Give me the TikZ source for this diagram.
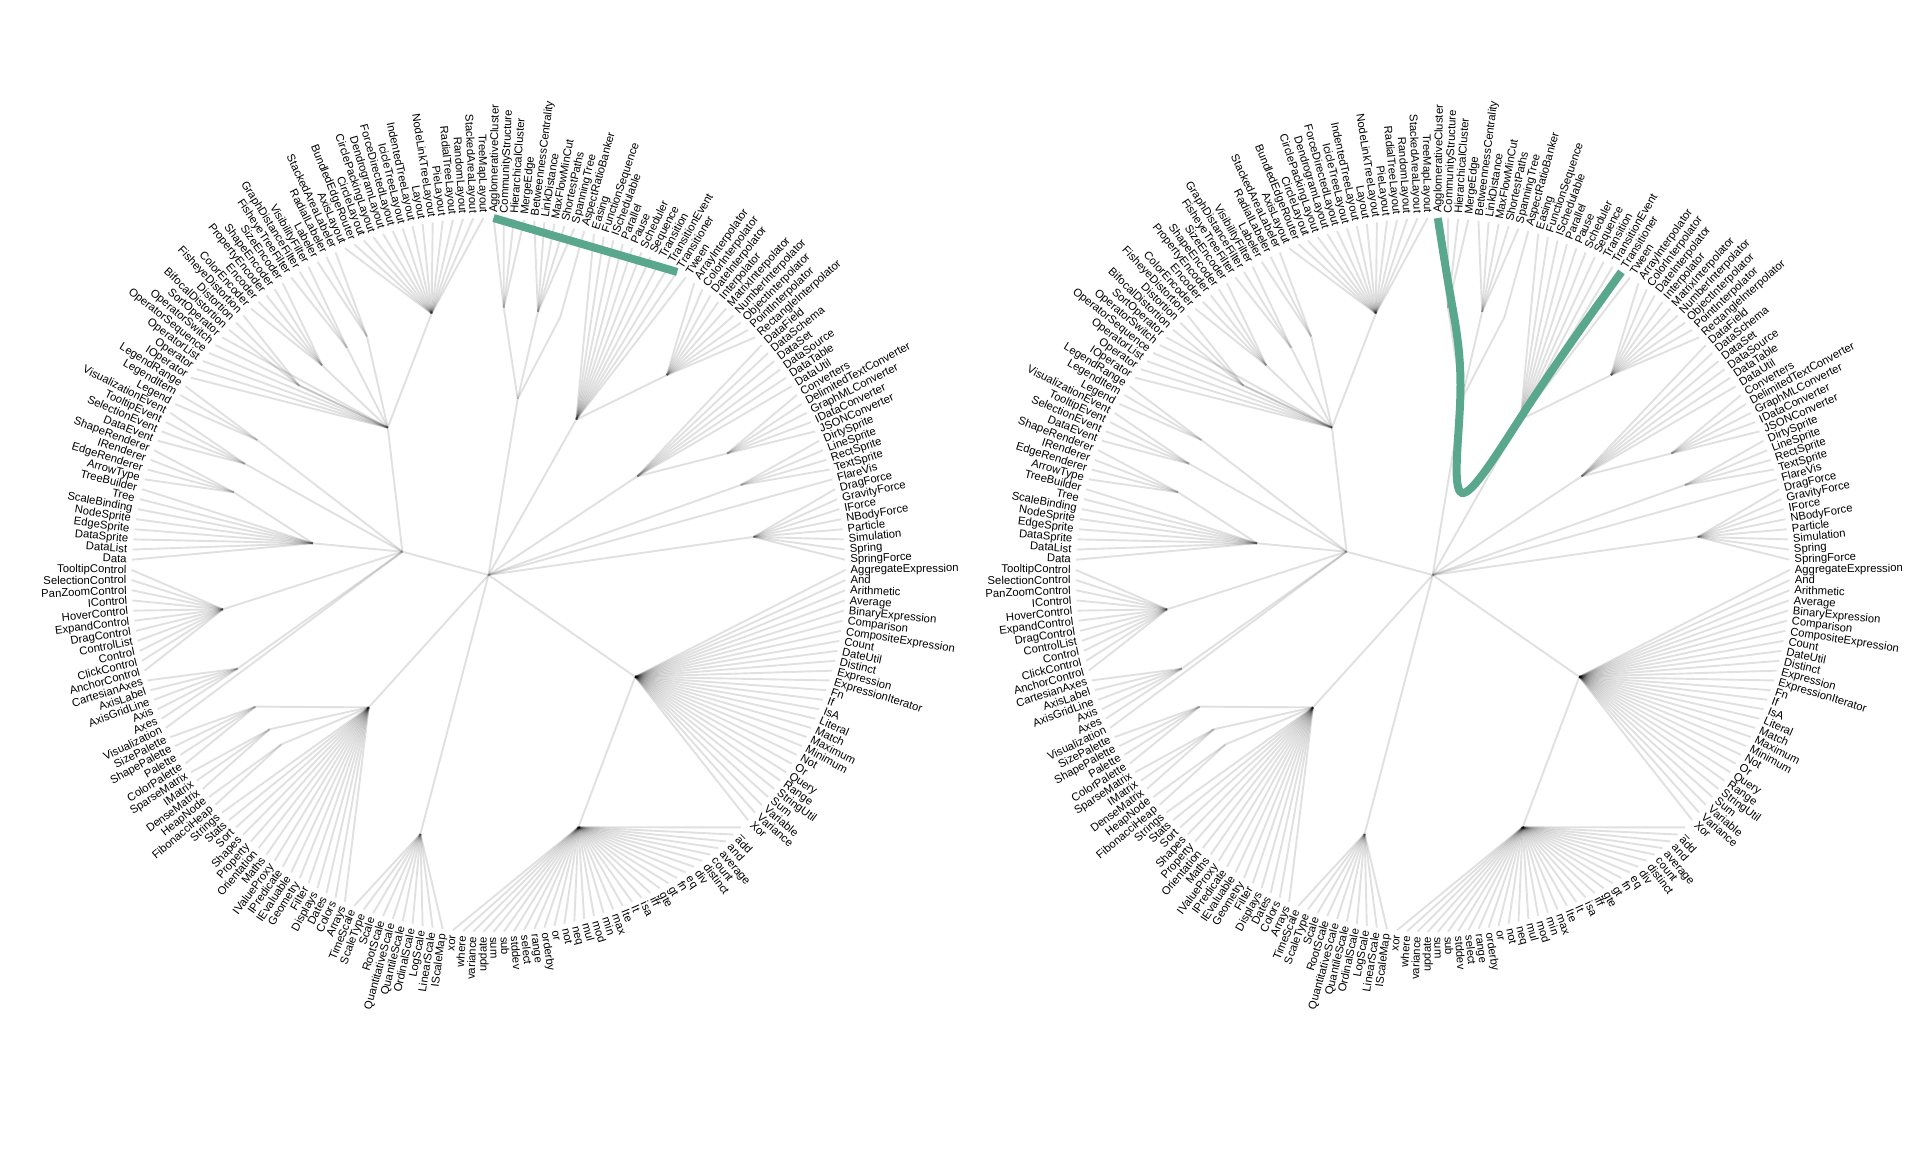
\documentclass[tikz,border=0pt]{standalone}
\usepackage{fontspec}
\setmainfont{Liberation Sans}
\usetikzlibrary{calc}
\definecolor{hlgreen}{RGB}{89,167,141}
\tikzset{
  link/.style={draw=black, draw opacity=0.12, line width=1.9pt},
  leaflabel/.style={inner sep=0pt, text height=7.9pt, text depth=0.9pt, font=\fontsize{11.3}{13}\selectfont},
  hl/.style={draw=hlgreen, line width=8pt},
}
\def\innerlist{analytics/5.25/0.5, cluster/1.5/0.75, graph/6/0.75, optimization/9/0.75,
 animate/17.5/0.5, interpolate/25/0.75, data/34/0.5, converters/38/0.75, display/42.5/0.75,
 flex/45/0.75, physics/49.5/0.75, query/75.75/0.5, methods/97.5/0.75, scale/118.5/0.75,
 util/135.25/0.5, heap/140.5/0.75, math/143/0.75, palette/146.5/0.75, vis/173.75/0.25,
 axis/152/0.75, controls/160/0.75, visdata/170.75/0.5, render/175.5/0.75, events/179.5/0.75,
 legend/183/0.75, operator/198.5/0.5, distortion/192/0.75, encoder/196/0.75, filter/200/0.75,
 label/203/0.75, layout/212/0.75}
\def\edgelist{root/analytics, analytics/cluster, analytics/graph, analytics/optimization,
 root/animate, animate/interpolate, root/data, data/converters, root/display, root/flex,
 root/physics, root/query, query/methods, root/scale, root/util, util/heap, util/math,
 util/palette, root/vis, vis/axis, vis/controls, vis/visdata, visdata/render, vis/events,
 vis/legend, vis/operator, operator/distortion, operator/encoder, operator/filter,
 operator/label, operator/layout}
\def\leaflist{0/AgglomerativeCluster/cluster, 1/CommunityStructure/cluster,
 2/HierarchicalCluster/cluster, 3/MergeEdge/cluster, 4/BetweennessCentrality/graph,
 5/LinkDistance/graph, 6/MaxFlowMinCut/graph, 7/ShortestPaths/graph, 8/SpanningTree/graph,
 9/AspectRatioBanker/optimization, 10/Easing/animate, 11/FunctionSequence/animate,
 12/ISchedulable/animate, 13/Parallel/animate, 14/Pause/animate, 15/Scheduler/animate,
 16/Sequence/animate, 17/Transition/animate, 18/TransitionEvent/animate,
 19/Transitioner/animate, 20/Tween/animate, 21/ArrayInterpolator/interpolate,
 22/ColorInterpolator/interpolate, 23/DateInterpolator/interpolate,
 24/Interpolator/interpolate, 25/MatrixInterpolator/interpolate,
 26/NumberInterpolator/interpolate, 27/ObjectInterpolator/interpolate,
 28/PointInterpolator/interpolate, 29/RectangleInterpolator/interpolate,
 30/DataField/data, 31/DataSchema/data, 32/DataSet/data, 33/DataSource/data,
 34/DataTable/data, 35/DataUtil/data, 36/Converters/converters,
 37/DelimitedTextConverter/converters, 38/GraphMLConverter/converters,
 39/IDataConverter/converters, 40/JSONConverter/converters, 41/DirtySprite/display,
 42/LineSprite/display, 43/RectSprite/display, 44/TextSprite/display, 45/FlareVis/flex,
 46/DragForce/physics, 47/GravityForce/physics, 48/IForce/physics, 49/NBodyForce/physics,
 50/Particle/physics, 51/Simulation/physics, 52/Spring/physics, 53/SpringForce/physics,
 54/AggregateExpression/query, 55/And/query, 56/Arithmetic/query, 57/Average/query,
 58/BinaryExpression/query, 59/Comparison/query, 60/CompositeExpression/query,
 61/Count/query, 62/DateUtil/query, 63/Distinct/query, 64/Expression/query,
 65/ExpressionIterator/query, 66/Fn/query, 67/If/query, 68/IsA/query, 69/Literal/query,
 70/Match/query, 71/Maximum/query, 72/Minimum/query, 73/Not/query, 74/Or/query,
 75/Query/query, 76/Range/query, 77/StringUtil/query, 78/Sum/query, 79/Variable/query,
 80/Variance/query, 81/Xor/query, 82/\_/methods, 83/add/methods, 84/and/methods,
 85/average/methods, 86/count/methods, 87/distinct/methods, 88/div/methods, 89/eq/methods,
 90/fn/methods, 91/gt/methods, 92/gte/methods, 93/iff/methods, 94/isa/methods,
 95/lt/methods, 96/lte/methods, 97/max/methods, 98/min/methods, 99/mod/methods,
 100/mul/methods, 101/neq/methods, 102/not/methods, 103/or/methods, 104/orderby/methods,
 105/range/methods, 106/select/methods, 107/stddev/methods, 108/sub/methods,
 109/sum/methods, 110/update/methods, 111/variance/methods, 112/where/methods,
 113/xor/methods, 114/IScaleMap/scale, 115/LinearScale/scale, 116/LogScale/scale,
 117/OrdinalScale/scale, 118/QuantileScale/scale, 119/QuantitativeScale/scale,
 120/RootScale/scale, 121/Scale/scale, 122/ScaleType/scale, 123/TimeScale/scale,
 124/Arrays/util, 125/Colors/util, 126/Dates/util, 127/Displays/util, 128/Filter/util,
 129/Geometry/util, 130/IEvaluable/util, 131/IPredicate/util, 132/IValueProxy/util,
 133/Maths/util, 134/Orientation/util, 135/Property/util, 136/Shapes/util, 137/Sort/util,
 138/Stats/util, 139/Strings/util, 140/FibonacciHeap/heap, 141/HeapNode/heap,
 142/DenseMatrix/math, 143/IMatrix/math, 144/SparseMatrix/math, 145/ColorPalette/palette,
 146/Palette/palette, 147/ShapePalette/palette, 148/SizePalette/palette,
 149/Visualization/vis, 150/Axes/axis, 151/Axis/axis, 152/AxisGridLine/axis,
 153/AxisLabel/axis, 154/CartesianAxes/axis, 155/AnchorControl/controls,
 156/ClickControl/controls, 157/Control/controls, 158/ControlList/controls,
 159/DragControl/controls, 160/ExpandControl/controls, 161/HoverControl/controls,
 162/IControl/controls, 163/PanZoomControl/controls, 164/SelectionControl/controls,
 165/TooltipControl/controls, 166/Data/visdata, 167/DataList/visdata,
 168/DataSprite/visdata, 169/EdgeSprite/visdata, 170/NodeSprite/visdata,
 171/ScaleBinding/visdata, 172/Tree/visdata, 173/TreeBuilder/visdata,
 174/ArrowType/render, 175/EdgeRenderer/render, 176/IRenderer/render,
 177/ShapeRenderer/render, 178/DataEvent/events, 179/SelectionEvent/events,
 180/TooltipEvent/events, 181/VisualizationEvent/events, 182/Legend/legend,
 183/LegendItem/legend, 184/LegendRange/legend, 185/IOperator/operator,
 186/Operator/operator, 187/OperatorList/operator, 188/OperatorSequence/operator,
 189/OperatorSwitch/operator, 190/SortOperator/operator, 191/BifocalDistortion/distortion,
 192/Distortion/distortion, 193/FisheyeDistortion/distortion, 194/ColorEncoder/encoder,
 195/Encoder/encoder, 196/PropertyEncoder/encoder, 197/ShapeEncoder/encoder,
 198/SizeEncoder/encoder, 199/FisheyeTreeFilter/filter, 200/GraphDistanceFilter/filter,
 201/VisibilityFilter/filter, 202/Labeler/label, 203/RadialLabeler/label,
 204/StackedAreaLabeler/label, 205/AxisLayout/layout, 206/BundledEdgeRouter/layout,
 207/CircleLayout/layout, 208/CirclePackingLayout/layout, 209/DendrogramLayout/layout,
 210/ForceDirectedLayout/layout, 211/IcicleTreeLayout/layout, 212/IndentedTreeLayout/layout,
 213/Layout/layout, 214/NodeLinkTreeLayout/layout, 215/PieLayout/layout,
 216/RadialTreeLayout/layout, 217/RandomLayout/layout, 218/StackedAreaLayout/layout,
 219/TreeMapLayout/layout}
\newcommand\flaretree[3]{%
\begin{scope}[shift={(#2,#3)}]
  \coordinate (#1-root) at (0,0);
  \foreach \nm/\u/\f in \innerlist {
    \pgfmathsetmacro\th{90-(\u+0.5)*1.6363636}
    \pgfmathsetmacro\rr{357*\f}
    \coordinate (#1-\nm) at (\th:\rr);
  }
  \foreach \pa/\ch in \edgelist {
    \draw[link] (#1-\pa) -- (#1-\ch);
  }
  \foreach \i/\nm/\p in \leaflist {
    \pgfmathsetmacro\th{90-(\i+0.5)*1.6363636}
    \coordinate (#1-leaf-\i) at (\th:357);
    \draw[link] (#1-\p) -- (#1-leaf-\i);
    \ifnum\i<110
      \node[leaflabel, rotate=\th, anchor=west] (#1-lab-\i) at (\th:362) {\nm};
    \else
      \pgfmathsetmacro\rt{\th+180}
      \node[leaflabel, rotate=\rt, anchor=east] (#1-lab-\i) at (\th:362) {\nm};
    \fi
  }
\end{scope}}
\begin{document}
\begin{tikzpicture}[x=1pt,y=1pt]
\fill[white] (0,0) rectangle (1920,1152);
\useasboundingbox (0,0) rectangle (1920,1152);
\flaretree{L}{488.5}{577}
\flaretree{R}{1432.7}{577}
% left: straight highlight
\draw[hl] (L-leaf-0) -- (L-leaf-19);
% right: bundled highlight (beta = 0.9)
\coordinate (B-L1) at ($(R-leaf-0)!0.2!(R-leaf-19)$);
\coordinate (B-L2) at ($(R-leaf-0)!0.4!(R-leaf-19)$);
\coordinate (B-L3) at ($(R-leaf-0)!0.6!(R-leaf-19)$);
\coordinate (B-L4) at ($(R-leaf-0)!0.8!(R-leaf-19)$);
\coordinate (Q1) at ($(R-cluster)!0.1!(B-L1)$);
\coordinate (Q2) at ($(R-analytics)!0.1!(B-L2)$);
\coordinate (Q3) at ($(R-root)!0.1!(B-L3)$);
\coordinate (Q4) at ($(R-animate)!0.1!(B-L4)$);
\coordinate (M1) at ($(R-leaf-0)!0.5!(Q2)$);
\coordinate (M2) at ($(Q1)!0.5!(Q3)$);
\coordinate (M3) at ($(Q2)!0.5!(Q4)$);
\coordinate (M4) at ($(Q3)!0.5!(R-leaf-19)$);
\coordinate (K1) at ($(Q1)!0.33333!(M1)$);
\coordinate (K2) at ($(Q2)!0.33333!(M2)$);
\coordinate (K3) at ($(Q3)!0.33333!(M3)$);
\coordinate (K4) at ($(Q4)!0.33333!(M4)$);
\draw[hl] (R-leaf-0) -- ($(R-leaf-0)!0.16667!(Q1)$)
  .. controls ($(R-leaf-0)!0.33333!(Q1)$) and ($(R-leaf-0)!0.66667!(Q1)$) .. (K1)
  .. controls ($(Q1)!0.33333!(Q2)$) and ($(Q1)!0.66667!(Q2)$) .. (K2)
  .. controls ($(Q2)!0.33333!(Q3)$) and ($(Q2)!0.66667!(Q3)$) .. (K3)
  .. controls ($(Q3)!0.33333!(Q4)$) and ($(Q3)!0.66667!(Q4)$) .. (K4)
  .. controls ($(Q4)!0.33333!(R-leaf-19)$) and ($(Q4)!0.66667!(R-leaf-19)$) .. ($(Q4)!0.83333!(R-leaf-19)$)
  -- (R-leaf-19);
\end{tikzpicture}
\end{document}
